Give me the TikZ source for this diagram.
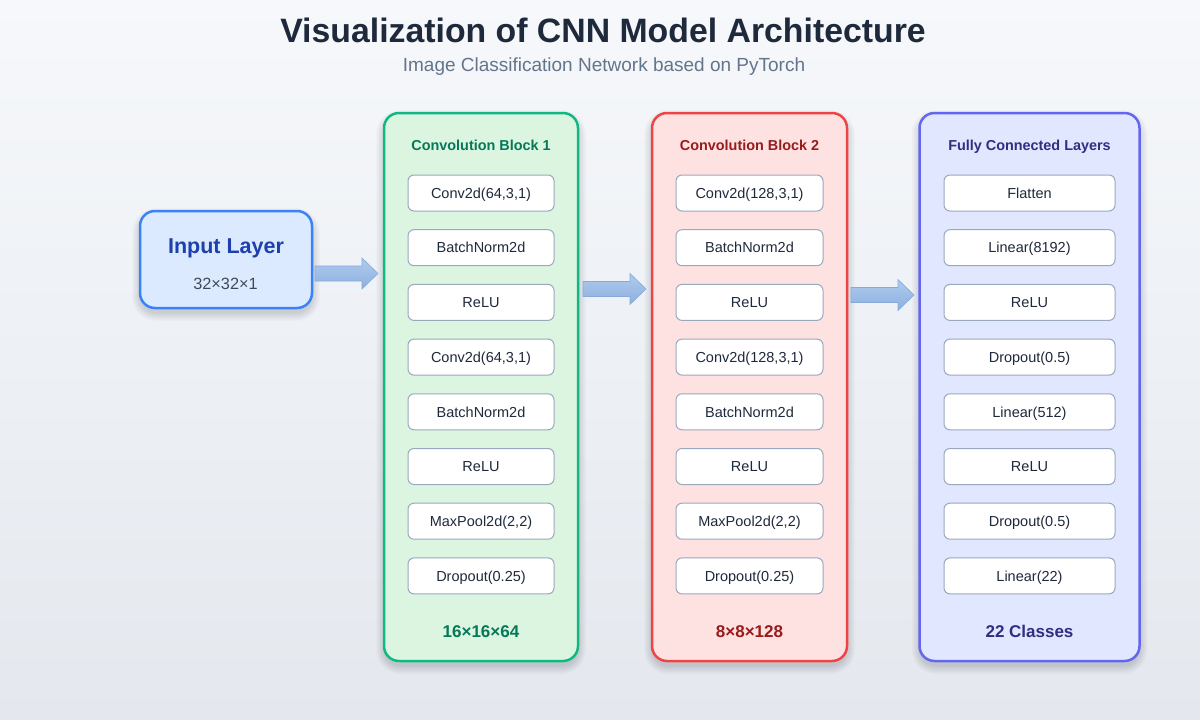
\documentclass[tikz,border=0pt]{standalone}
\usepackage{fontspec}
\setmainfont{Liberation Sans}
\usetikzlibrary{calc}
\definecolor{bgtop}{HTML}{F6F8FB}
\definecolor{bgbot}{HTML}{E4E8EE}
\definecolor{titlec}{HTML}{1E293B}
\definecolor{subc}{HTML}{64748B}
\definecolor{inFill}{HTML}{DBEAFE}
\definecolor{inLine}{HTML}{3B82F6}
\definecolor{inText}{HTML}{1E40AF}
\definecolor{gFill}{HTML}{DCF5E0}
\definecolor{gLine}{HTML}{10B981}
\definecolor{gText}{HTML}{047857}
\definecolor{rFill}{HTML}{FEE2E2}
\definecolor{rLine}{HTML}{EF4444}
\definecolor{rText}{HTML}{991B1B}
\definecolor{bFill}{HTML}{E0E7FF}
\definecolor{bLine}{HTML}{6366F1}
\definecolor{bText}{HTML}{312E81}
\definecolor{layLine}{HTML}{9AA8BE}
\definecolor{layText}{HTML}{1E293B}
\definecolor{arTop}{HTML}{AFCBEE}
\definecolor{arBot}{HTML}{8DB0DF}
\definecolor{arLine}{HTML}{86AADB}
\tikzset{
  blockbox/.style={draw,line width=2.5pt,rounded corners=15pt,minimum height=548pt},
  layerbox/.style={draw=layLine,line width=1pt,fill=white,rounded corners=6pt,minimum height=36pt,
     font=\fontsize{14.5}{16}\selectfont,text=layText,inner sep=0pt,text height=10.4pt,text depth=0pt},
  headtxt/.style={font=\bfseries\fontsize{14.4}{16}\selectfont,anchor=base},
  foottxt/.style={font=\bfseries\fontsize{17}{19}\selectfont,anchor=base},
  fatarrow/.style={draw=arLine,line width=0.6pt,top color=arTop,bottom color=arBot},
}
\newcommand{\fatarrowdraw}[3]{% x1 x2 yc
  \draw[fatarrow] (#1,#3-7.5) -- (#2-16,#3-7.5) -- (#2-16,#3-15.5) -- (#2,#3)
    -- (#2-16,#3+15.5) -- (#2-16,#3+7.5) -- (#1,#3+7.5) -- cycle;}
\newcommand{\softshadow}[5]{% cx cy w h r
  \foreach \k in {1,...,9}{%
    \pgfmathsetmacro{\rr}{#5+\k}%
    \fill[black,opacity=0.016,rounded corners=\rr pt]
      (#1-#3/2-\k+1,#2-#4/2-\k+6) rectangle (#1+#3/2+\k-1,#2+#4/2+\k+4);}}
\begin{document}
\begin{tikzpicture}[x=1pt,y=-1pt]
\useasboundingbox (0,0) rectangle (1200,720);
\shade[top color=bgtop,bottom color=bgbot] (0,0) rectangle (1200,720);

% title
\node[font=\bfseries\fontsize{33.8}{38}\selectfont,text=titlec,anchor=base] (title) at (603,42) {Visualization of CNN Model Architecture};
\node[font=\fontsize{19}{22}\selectfont,text=subc,anchor=base] (subtitle) at (604,71.5) {Image Classification Network based on PyTorch};

% shadows
\softshadow{226}{259.5}{172}{97}{15}
\softshadow{481}{387}{194}{548}{15}
\softshadow{749.5}{387}{195}{548}{15}
\softshadow{1029.5}{387}{220}{548}{15}

% input
\node[draw=inLine,fill=inFill,line width=2.5pt,rounded corners=15pt,minimum width=172pt,minimum height=97pt] (input) at (226,259.5) {};
\node[font=\bfseries\fontsize{21.5}{24}\selectfont,text=inText,anchor=base] (inlabel) at (226,253.7) {Input Layer};
\node[font=\fontsize{16.3}{18}\selectfont,text=layText!85!white,anchor=base] (insize) at (225.5,289.8) {32×32×1};

% blocks
\node[blockbox,draw=gLine,fill=gFill,minimum width=194pt] (b1) at (481,387) {};
\node[blockbox,draw=rLine,fill=rFill,minimum width=195pt] (b2) at (749.5,387) {};
\node[blockbox,draw=bLine,fill=bFill,minimum width=220pt] (b3) at (1029.5,387) {};

\node[headtxt,text=gText] (h1) at (481,150.2) {Convolution Block 1};
\node[headtxt,text=rText] (h2) at (749.5,150.2) {Convolution Block 2};
\node[headtxt,text=bText] (h3) at (1029.5,150.2) {Fully Connected Layers};

\node[foottxt,text=gText] (f1) at (481,637.6) {16×16×64};
\node[foottxt,text=rText] (f2) at (749.5,637.6) {8×8×128};
\node[foottxt,text=bText] (f3) at (1029.5,637.6) {22 Classes};

% layers
\foreach \t [count=\i from 0] in {{Conv2d(64,3,1)},BatchNorm2d,ReLU,{Conv2d(64,3,1)},BatchNorm2d,ReLU,{MaxPool2d(2,2)},Dropout(0.25)}
  \node[layerbox,minimum width=146pt] (l1-\i) at (481,193+54.7*\i) {\t};
\foreach \t [count=\i from 0] in {{Conv2d(128,3,1)},BatchNorm2d,ReLU,{Conv2d(128,3,1)},BatchNorm2d,ReLU,{MaxPool2d(2,2)},Dropout(0.25)}
  \node[layerbox,minimum width=147pt] (l2-\i) at (749.5,193+54.7*\i) {\t};
\foreach \t [count=\i from 0] in {Flatten,Linear(8192),ReLU,Dropout(0.5),Linear(512),ReLU,Dropout(0.5),Linear(22)}
  \node[layerbox,minimum width=171pt] (l3-\i) at (1029.5,193+54.7*\i) {\t};

% arrows
\fatarrowdraw{315}{378}{273.5}
\fatarrowdraw{583}{646}{289}
\fatarrowdraw{851}{914}{295}
\end{tikzpicture}
\end{document}
